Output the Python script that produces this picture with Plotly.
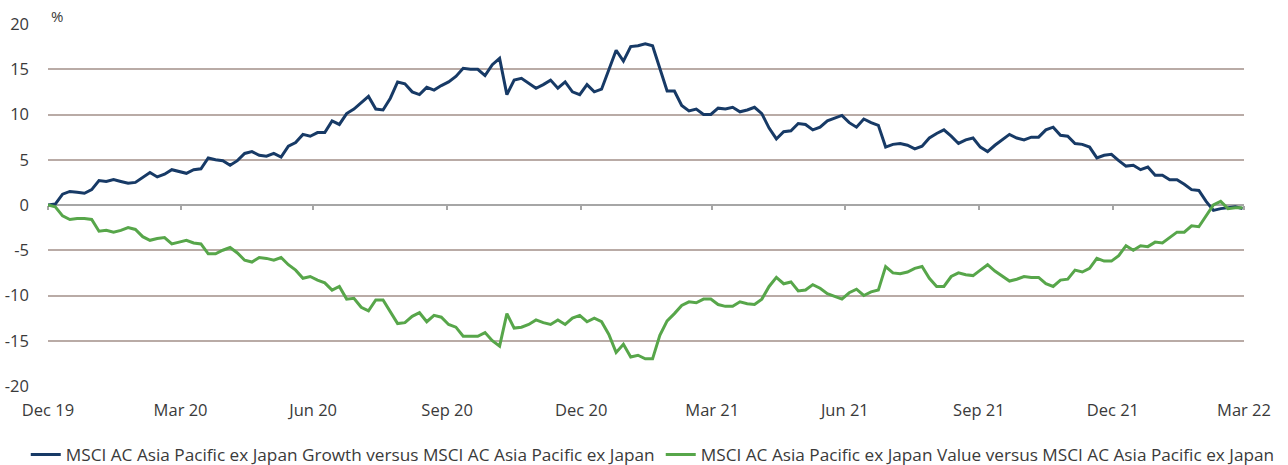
import pandas as pd
import plotly.graph_objects as go

# Observation dates: every 5 days from end-Dec 2019 to end-Mar 2022
dates = pd.date_range("2019-12-31", periods=165, freq="5D")

# Relative performance versus MSCI AC Asia Pacific ex Japan (%)
growth = [
    0.0, 0.1, 1.2, 1.5, 1.4, 1.3, 1.7, 2.7, 2.6, 2.8,
    2.6, 2.4, 2.5, 3.1, 3.6, 3.1, 3.4, 3.9, 3.7, 3.5,
    3.9, 4.0, 5.2, 5.0, 4.9, 4.4, 4.9, 5.7, 5.9, 5.5,
    5.4, 5.7, 5.3, 6.5, 6.9, 7.8, 7.6, 8.0, 8.0, 9.3,
    8.9, 10.1, 10.6, 11.3, 12.0, 10.6, 10.5, 11.8, 13.6, 13.4,
    12.5, 12.2, 13.0, 12.7, 13.2, 13.6, 14.2, 15.1, 15.0, 15.0,
    14.3, 15.5, 16.2, 12.2, 13.8, 14.0, 13.4, 12.9, 13.3, 13.8,
    12.9, 13.6, 12.5, 12.2, 13.3, 12.5, 12.8, 15.0, 17.1, 15.9,
    17.5, 17.6, 17.8, 17.6, 15.2, 12.6, 12.6, 11.0, 10.4, 10.6,
    10.0, 10.0, 10.7, 10.6, 10.8, 10.3, 10.5, 10.8, 10.1, 8.5,
    7.3, 8.1, 8.2, 9.0, 8.9, 8.3, 8.6, 9.3, 9.6, 9.9,
    9.1, 8.6, 9.5, 9.1, 8.8, 6.4, 6.7, 6.8, 6.6, 6.2,
    6.5, 7.4, 7.9, 8.3, 7.6, 6.8, 7.2, 7.4, 6.4, 5.9,
    6.6, 7.2, 7.8, 7.4, 7.2, 7.5, 7.5, 8.3, 8.6, 7.7,
    7.6, 6.8, 6.7, 6.4, 5.2, 5.5, 5.6, 4.9, 4.3, 4.4,
    3.9, 4.2, 3.3, 3.3, 2.8, 2.8, 2.3, 1.7, 1.6, 0.4,
    -0.6, -0.4, -0.3, -0.2, -0.4,
]

value = [
    0.0, -0.2, -1.2, -1.6, -1.5, -1.5, -1.6, -2.9, -2.8, -3.0,
    -2.8, -2.5, -2.7, -3.5, -3.9, -3.7, -3.6, -4.3, -4.1, -3.9,
    -4.2, -4.3, -5.4, -5.4, -5.0, -4.7, -5.3, -6.1, -6.3, -5.8,
    -5.9, -6.1, -5.8, -6.6, -7.2, -8.1, -7.9, -8.3, -8.6, -9.4,
    -9.0, -10.4, -10.3, -11.3, -11.7, -10.5, -10.5, -11.8, -13.1, -13.0,
    -12.3, -11.9, -12.9, -12.2, -12.4, -13.2, -13.5, -14.5, -14.5, -14.5,
    -14.1, -15.0, -15.6, -12.0, -13.6, -13.5, -13.2, -12.7, -13.0, -13.2,
    -12.7, -13.2, -12.5, -12.2, -12.9, -12.5, -12.9, -14.3, -16.3, -15.4,
    -16.8, -16.6, -17.0, -17.0, -14.4, -12.8, -12.0, -11.1, -10.7, -10.8,
    -10.4, -10.4, -11.0, -11.2, -11.2, -10.7, -10.9, -11.0, -10.4, -9.0,
    -8.0, -8.7, -8.5, -9.5, -9.4, -8.8, -9.2, -9.8, -10.1, -10.4,
    -9.7, -9.3, -10.0, -9.6, -9.4, -6.8, -7.5, -7.6, -7.4, -7.0,
    -6.8, -8.1, -9.0, -9.0, -7.9, -7.5, -7.7, -7.8, -7.2, -6.6,
    -7.3, -7.9, -8.4, -8.2, -7.9, -8.0, -8.0, -8.7, -9.0, -8.3,
    -8.2, -7.2, -7.4, -7.0, -5.9, -6.2, -6.2, -5.6, -4.5, -5.0,
    -4.5, -4.6, -4.1, -4.2, -3.6, -3.0, -3.0, -2.3, -2.4, -1.2,
    0.0, 0.4, -0.4, -0.3, -0.3,
]

series_names = [
    "MSCI AC Asia Pacific ex Japan Growth versus MSCI AC Asia Pacific ex Japan",
    "MSCI AC Asia Pacific ex Japan Value versus MSCI AC Asia Pacific ex Japan",
]

# Axis ticks
x_tick_dates = [
    "2019-12-31", "2020-03-31", "2020-06-30", "2020-09-30", "2020-12-31",
    "2021-03-31", "2021-06-30", "2021-09-30", "2021-12-31", "2022-03-31",
]
x_tick_labels = [
    "Dec 19", "Mar 20", "Jun 20", "Sep 20", "Dec 20",
    "Mar 21", "Jun 21", "Sep 21", "Dec 21", "Mar 22",
]
y_tick_values = [20, 15, 10, 5, 0, -5, -10, -15, -20]
y_tick_labels = ["20", "15", "10", "5", "0", "-5", "-10", "-15", "-20"]

NAVY = "#173a66"
GREEN = "#57a64a"
GRID = "#b9aba6"
AXIS = "#a6a6a6"
TEXT = "#3a3a3a"
FONT = "Open Sans"
TICK_SIZE = 16.5
LEGEND_SIZE = 17.2

fig = go.Figure()

fig.add_trace(go.Scatter(
    x=dates, y=growth, name=series_names[0], mode="lines",
    line=dict(color=NAVY, width=3), hoverinfo="skip", legend="legend",
))
fig.add_trace(go.Scatter(
    x=dates, y=value, name=series_names[1], mode="lines",
    line=dict(color=GREEN, width=3), hoverinfo="skip", legend="legend2",
))
# invisible carrier so the zero-line axis (x2) gets drawn
fig.add_trace(go.Scatter(
    x=dates, y=growth, xaxis="x2", mode="lines", opacity=0,
    line=dict(width=0), showlegend=False, hoverinfo="skip",
))

legend_common = dict(
    orientation="h", xanchor="left",
    yref="container", y=0.022, yanchor="middle", xref="container",
    font=dict(family=FONT, size=LEGEND_SIZE, color=TEXT),
    itemwidth=30, bgcolor="rgba(0,0,0,0)",
)

fig.update_layout(
    width=1288, height=465,
    margin=dict(l=48, r=44, t=24, b=79, autoexpand=False),
    paper_bgcolor="white", plot_bgcolor="white",
    font=dict(family=FONT, size=TICK_SIZE, color=TEXT),
    showlegend=True,
    legend=dict(legend_common, x=0.02),
    legend2=dict(legend_common, x=0.513),
    xaxis=dict(
        type="date", range=[x_tick_dates[0], x_tick_dates[-1]],
        tickmode="array", tickvals=x_tick_dates, ticktext=x_tick_labels,
        showgrid=False, showline=False, zeroline=False, ticks="",
        ticklabelstandoff=12,
        tickfont=dict(family=FONT, size=TICK_SIZE, color=TEXT),
    ),
    xaxis2=dict(
        type="date", overlaying="x", matches="x", anchor="free", position=0.5,
        side="bottom", tickmode="array", tickvals=x_tick_dates,
        showticklabels=False, showgrid=False, zeroline=False,
        showline=True, linecolor=AXIS, linewidth=2,
        ticks="outside", ticklen=4, tickwidth=1.5, tickcolor=AXIS,
        layer="below traces",
    ),
    yaxis=dict(
        range=[-20, 20], tickmode="array",
        tickvals=y_tick_values, ticktext=y_tick_labels,
        showgrid=True, gridcolor=GRID, gridwidth=1.5,
        zeroline=False, showline=False, ticks="",
        ticklabelstandoff=18,
        tickfont=dict(family=FONT, size=TICK_SIZE, color=TEXT),
    ),
    annotations=[dict(
        text="%", xref="paper", yref="paper", x=0, y=1,
        xanchor="center", yanchor="bottom", showarrow=False, xshift=9,
        font=dict(family=FONT, size=15, color=TEXT), yshift=-4,
    )],
)

fig.write_html("out.html")
